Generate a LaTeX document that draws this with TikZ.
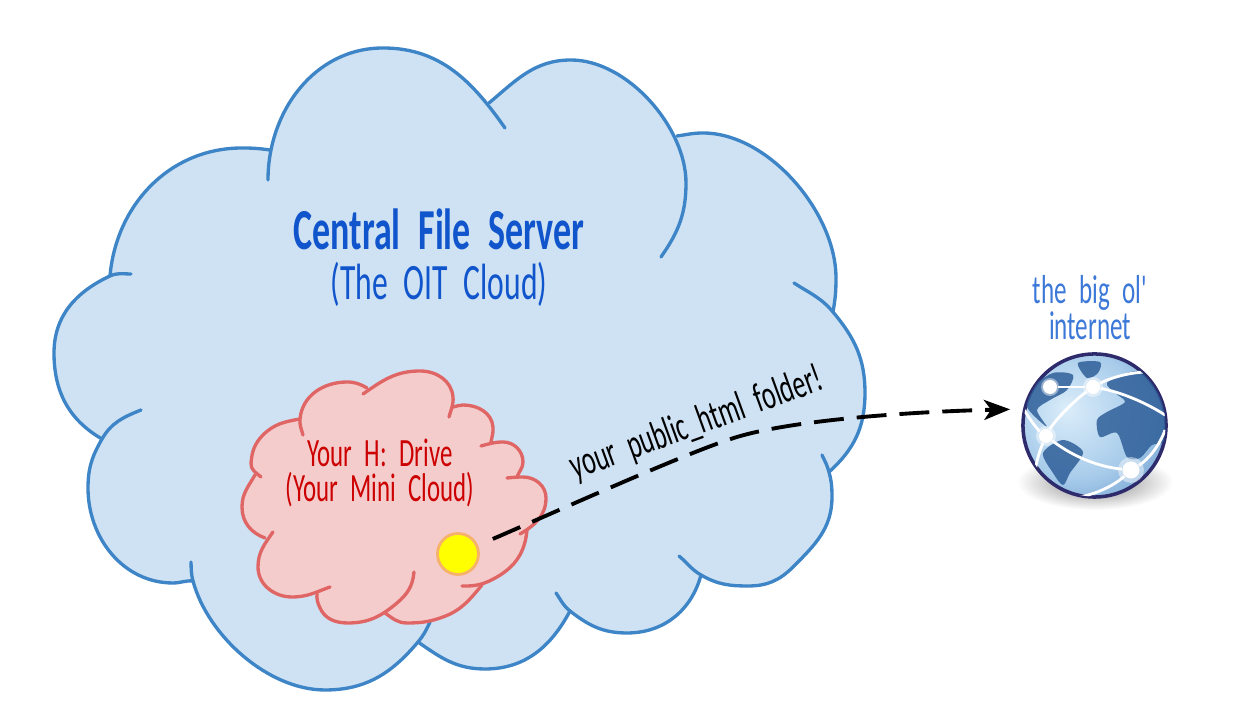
\documentclass[tikz,border=0pt]{standalone}
\usepackage{fontspec}
\usepackage{xcolor}
\usetikzlibrary{arrows.meta}
\newfontfamily\handfont[FakeStretch=0.62,WordSpace=2.2]{Carlito}
\definecolor{serverfill}{HTML}{CFE2F3}
\definecolor{serverline}{HTML}{3D85C6}
\definecolor{drivefill}{HTML}{F4CCCC}
\definecolor{driveline}{HTML}{E06666}
\definecolor{drivetext}{HTML}{CC0000}
\definecolor{servertext}{HTML}{1155CC}
\definecolor{nettext}{HTML}{3C78D8}
\definecolor{dotfill}{HTML}{FFFF00}
\definecolor{dotline}{HTML}{F6B26B}
\definecolor{landblue}{HTML}{2F5F99}
\definecolor{globerim}{HTML}{2D2B6B}
\pgfdeclareradialshading{globeball}{\pgfpoint{-10bp}{6bp}}{
  rgb(0bp)=(.86,.93,.98); rgb(22bp)=(.66,.80,.92); rgb(42bp)=(.36,.56,.78); rgb(62bp)=(.20,.38,.62)}
\newcommand\serverlobeA{(268,180) to[out=90,in=180] (383,48) to[out=0,in=125] (505,128)}
\newcommand\serverlobeB{(489,103) to[out=40,in=180] (571,60) to[out=0,in=90,looseness=.85] (686,183) to[out=-90,in=55] (661,257)}
\newcommand\serverlobeC{(677,136) to[out=8,in=180] (703,133) to[out=0,in=90,looseness=.85] (836,278) to[out=-90,in=80] (833,312)}
\newcommand\serverlobeD{(794,283) to[out=-33,in=130] (833,312) to[out=-50,in=90] (865,393) to[out=-90,in=42] (829,472)}
\newcommand\serverlobeE{(822,455) to[out=-65,in=105] (829,472) to[out=-75,in=90] (832,497) to[out=-90,in=45] (793,567) to[out=-135,in=0] (748,586) to[out=180,in=-30] (701,575) to[out=150,in=-40] (679,556)}
\newcommand\serverlobeF{(701,575) to[out=-105,in=0] (627,633) to[out=180,in=-38] (570,611) to[out=142,in=-55] (556,593)}
\newcommand\serverlobeG{(570,611) to[out=-118,in=0] (485,669) to[out=180,in=-35] (418,642)}
\newcommand\serverlobeH{(430,622) to[out=-115,in=50] (418,642) to[out=-130,in=0] (325,690) to[out=180,in=-75,looseness=.85] (193,581) to[out=105,in=-88] (191,562)}
\newcommand\serverlobeI{(193,581) to[out=175,in=0] (173,583) to[out=180,in=-90] (88,488) to[out=90,in=-120] (102,439) to[out=60,in=-158] (141,410)}
\newcommand\serverlobeJ{(102,439) to[out=150,in=-90] (54,353) to[out=90,in=-155] (110,276) to[out=25,in=180] (131,274)}
\newcommand\serverlobeK{(110,276) to[out=85,in=180] (242,148) to[out=0,in=172] (270,150)}
\edef\serveroutline{\serverlobeA -- \serverlobeB -- \serverlobeC -- \serverlobeD -- \serverlobeE -- \serverlobeF -- \serverlobeG -- \serverlobeH -- \serverlobeI -- \serverlobeJ -- \serverlobeK}
\newcommand\drivelobeA{(303,435) to[out=105,in=-95] (300,419) to[out=85,in=180] (347,382) to[out=0,in=150] (367,388)}
\newcommand\drivelobeB{(363,394) to[out=35,in=180] (420,371) to[out=0,in=95] (453,397) to[out=-85,in=75] (449,417)}
\newcommand\drivelobeC{(453,407) to[out=10,in=180] (463,405) to[out=0,in=95] (493,427) to[out=-85,in=80] (491,442)}
\newcommand\drivelobeD{(481,446) to[out=15,in=180] (503,442) to[out=0,in=90] (523,462) to[out=-90,in=70] (517,477)}
\newcommand\drivelobeE{(507,478) to[out=5,in=180] (523,477) to[out=0,in=90] (546,498) to[out=-90,in=30] (520,534)}
\newcommand\drivelobeF{(527,530) to[out=-95,in=30] (497,577) to[out=-150,in=-2] (462,586)}
\newcommand\drivelobeG{(482,585) to[out=-130,in=20] (443,617) to[out=-160,in=0] (407,623) to[out=180,in=-35] (385,613)}
\newcommand\drivelobeH{(414,572) to[out=-95,in=40] (397,603) to[out=-140,in=0] (348,623) to[out=180,in=-65] (320,608) to[out=115,in=-95] (317,593)}
\newcommand\drivelobeI{(330,587) to[out=-160,in=0] (292,597) to[out=180,in=-90] (258,567) to[out=90,in=-125] (273,532)}
\newcommand\drivelobeJ{(265,538) to[out=160,in=-90] (242,507) to[out=90,in=-120] (255,475)}
\newcommand\drivelobeK{(261,477) to[out=140,in=-95] (251,463) to[out=85,in=-135] (263,435) to[out=45,in=-170] (300,419)}
\edef\driveoutline{\drivelobeA -- \drivelobeB -- \drivelobeC -- \drivelobeD -- \drivelobeE -- \drivelobeF -- \drivelobeG -- \drivelobeH -- \drivelobeI -- \drivelobeJ -- \drivelobeK}
\begin{document}
\begin{tikzpicture}[x=0.01cm,y=-0.01cm,
    lobe/.style={line width=0.95pt,line cap=round},
    handtext/.style={align=center,inner sep=0pt,font=\handfont},
    hubglow/.style={circle,fill=white,minimum size=0.14cm,inner sep=0pt},
    hubhalo/.style={white,opacity=.45},
    landmass/.style={landblue,opacity=.85},
    netline/.style={white,line width=0.8pt}]
  \useasboundingbox (0,0) rectangle (1235,710);
  \fill[serverfill] \serveroutline -- cycle;
  \foreach \lobepath in {\serverlobeA,\serverlobeB,\serverlobeC,\serverlobeD,\serverlobeE,\serverlobeF,\serverlobeG,\serverlobeH,\serverlobeI,\serverlobeJ,\serverlobeK}
    \draw[lobe,serverline] \lobepath;
  \fill[drivefill] \driveoutline -- cycle;
  \foreach \lobepath in {\drivelobeA,\drivelobeB,\drivelobeC,\drivelobeD,\drivelobeE,\drivelobeF,\drivelobeG,\drivelobeH,\drivelobeI,\drivelobeJ,\drivelobeK}
    \draw[lobe,driveline] \lobepath;

  \node[handtext,text=servertext,font=\handfont\bfseries\fontsize{16.5}{18}\selectfont] (servertitle) at (439,229) {Central File Server};
  \node[handtext,text=servertext,font=\handfont\fontsize{14.5}{16}\selectfont] (serversub) at (439,284) {(The OIT Cloud)};
  \node[handtext,text=drivetext,font=\handfont\fontsize{11.4}{10}\selectfont] (drivelabel) at (380,473) {Your H: Drive\\(Your Mini Cloud)};
  \node[handtext,text=nettext,font=\handfont\fontsize{11.5}{10.2}\selectfont] (netlabel) at (1090,308) {the big ol'\\internet};
  \node[handtext,rotate=20,font=\handfont\fontsize{11.7}{13}\selectfont] (folderlabel) at (697,424) {your public\_html folder!};

  \node[circle,fill=dotfill,draw=dotline,line width=0.8pt,minimum size=0.41cm,inner sep=0pt] (dot) at (458,554) {};

  \shade[inner color=black!50,outer color=white] (1095,482) ellipse [x radius=78,y radius=28];
  \node[circle,shading=globeball,draw=globerim,line width=1pt,minimum size=1.43cm,inner sep=0pt] (globe) at (1094.5,425.5) {};
  \begin{scope}
    \clip (1094.5,425.5) circle [radius=71];
    \fill[landmass] plot[smooth cycle] coordinates {(1078,363) (1100,362) (1098,373) (1087,378)};
    \fill[landmass] plot[smooth cycle] coordinates {(1027,407) (1033,387) (1053,373) (1073,375) (1067,390) (1050,400) (1037,410) (1047,427)};
    \fill[landmass] plot[smooth cycle] coordinates {(1107,383) (1127,373) (1147,373) (1165,405) (1165,440) (1152,445) (1140,458) (1127,457) (1117,433) (1100,437) (1097,420) (1107,412) (1125,402) (1115,393)};
    \fill[landmass] plot[smooth cycle] coordinates {(1043,453) (1063,440) (1083,452) (1070,473) (1063,485) (1053,473)};
    \node[hubglow] (hubwest) at (1050,387) {};
    \node[hubglow] (hubnorth) at (1093,387) {};
    \node[hubglow] (hubmid) at (1046,436) {};
    \node[hubglow,minimum size=0.17cm] (hubsouth) at (1131,470) {};
    \fill[hubhalo] (hubwest) circle [radius=9];
    \fill[hubhalo] (hubnorth) circle [radius=10];
    \fill[hubhalo] (hubmid) circle [radius=10];
    \fill[hubhalo] (hubsouth) circle [radius=13];
    \draw[netline] (1023,408) .. controls (1030,420) and (1038,430) .. (hubmid);
    \draw[netline] (hubmid) .. controls (1075,458) and (1100,467) .. (hubsouth);
    \draw[netline] (hubwest) -- (hubnorth);
    \draw[netline] (hubnorth) .. controls (1120,392) and (1145,402) .. (1165,415);
    \draw[netline] (hubmid) .. controls (1055,420) and (1075,400) .. (hubnorth);
    \draw[netline] (hubnorth) .. controls (1110,378) and (1130,372) .. (1148,372);
    \draw[netline] (1165,430) .. controls (1160,445) and (1148,460) .. (hubsouth);
    \draw[netline] (hubsouth) .. controls (1115,485) and (1095,495) .. (1078,497) .. controls (1065,497) and (1050,487) .. (1035,473);
    \draw[netline] (hubmid) .. controls (1040,450) and (1036,462) .. (1035,473);
  \end{scope}

  \coordinate (dashbend) at (737,437);
  \draw[line width=1.1pt,dash pattern=on 8.5pt off 3.7pt,-{Stealth[length=0.26cm,width=0.2cm,inset=0.07cm]},shorten <=0.16cm,shorten >=0.13cm] (dot) .. controls (560,510) and (690,451) .. (dashbend) .. controls (790,421) and (900,412) .. (globe.167);
\end{tikzpicture}
\end{document}
